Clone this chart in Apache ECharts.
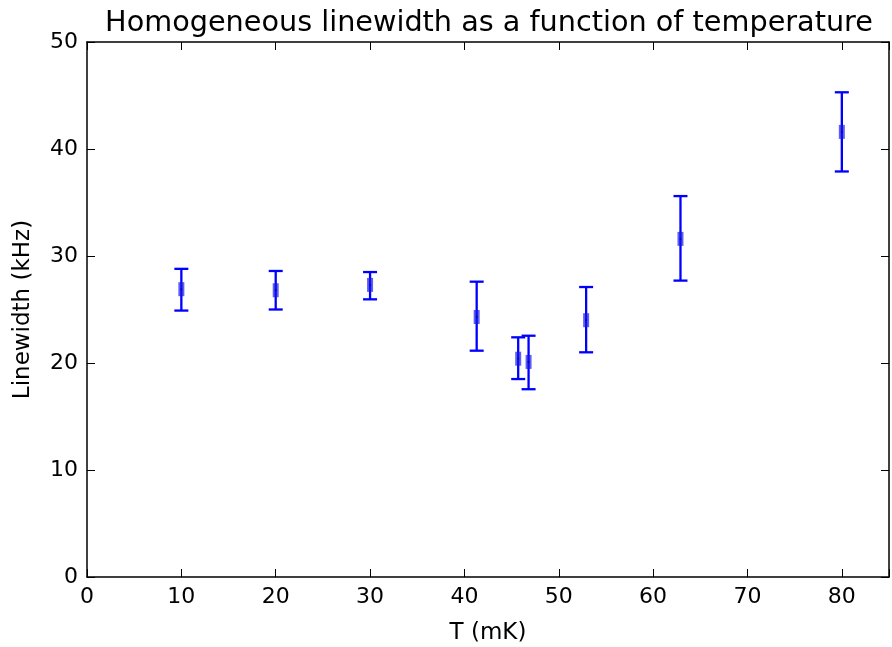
<!DOCTYPE html>
<html>
<head>
<meta charset="utf-8">
<script src="https://cdn.jsdelivr.net/npm/echarts@6/dist/echarts.min.js"></script>
<style>html,body{margin:0;padding:0;background:#fff}#c{width:892px;height:647px}</style>
</head>
<body>
<div id="c"></div>
<script>
var temperatures = [10, 20, 30, 41.3, 45.7, 46.8, 52.9, 62.9, 80];
var linewidths   = [26.9, 26.8, 27.3, 24.3, 20.4, 20.1, 24.0, 31.6, 41.6];
var lowerBounds  = [24.9, 25.0, 25.95, 21.15, 18.5, 17.55, 21.0, 27.7, 37.9];
var upperBounds  = [28.8, 28.6, 28.5, 27.6, 22.4, 22.55, 27.1, 35.6, 45.3];
var xTicks = [0, 10, 20, 30, 40, 50, 60, 70, 80];
var yTicks = [0, 10, 20, 30, 40, 50];

var font = 'DejaVu Sans';
var errData = temperatures.map(function (t, i) { return [t, lowerBounds[i], upperBounds[i]]; });
var ptData = temperatures.map(function (t, i) { return [t, linewidths[i]]; });

function axisCommon(show) {
  return {
    axisLine: { show: true, onZero: false, lineStyle: { color: '#000', width: 1.5 } },
    axisTick: { show: true, inside: true, length: 8, lineStyle: { color: '#000', width: 1 } },
    splitLine: { show: false },
    axisLabel: { show: show, color: '#000', fontFamily: font, fontSize: 22, margin: 9 }
  };
}

var chart = echarts.init(document.getElementById('c'));
chart.setOption({
  animation: false,
  title: {
    text: 'Homogeneous linewidth as a function of temperature',
    left: 484, top: 4, textAlign: 'center',
    textStyle: { fontFamily: font, fontSize: 28.7, fontWeight: 'normal', color: '#000' }
  },
  grid: { left: 87, right: 3, top: 42, bottom: 70, containLabel: false, outerBoundsMode: 'none' },
  xAxis: [
    Object.assign({ type: 'value', min: 0, max: 85, interval: 10, position: 'bottom',
      name: 'T (mK)', nameLocation: 'middle', nameGap: 45,
      nameTextStyle: { fontFamily: font, fontSize: 23, color: '#000' } }, axisCommon(true),
      { axisLabel: { color: '#000', fontFamily: font, fontSize: 22, margin: 9,
        formatter: function (v) { return xTicks.indexOf(v) >= 0 ? String(v) : ''; } } }),
    Object.assign({ type: 'value', min: 0, max: 85, interval: 10, position: 'top' }, axisCommon(false))
  ],
  yAxis: [
    Object.assign({ type: 'value', min: 0, max: 50, interval: 10, position: 'left',
      name: 'Linewidth (kHz)', nameLocation: 'middle', nameGap: 52,
      nameTextStyle: { fontFamily: font, fontSize: 23, color: '#000' } }, axisCommon(true),
      { axisLabel: { color: '#000', fontFamily: font, fontSize: 22, margin: 9,
        formatter: function (v) { return yTicks.indexOf(v) >= 0 ? String(v) : ''; } } }),
    Object.assign({ type: 'value', min: 0, max: 50, interval: 10, position: 'right' }, axisCommon(false))
  ],
  series: [
    {
      type: 'custom',
      xAxisIndex: 0, yAxisIndex: 0,
      data: errData,
      renderItem: function (params, api) {
        var x = api.value(0);
        var lo = api.coord([x, api.value(1)]);
        var hi = api.coord([x, api.value(2)]);
        var hw = 7;
        var style = { stroke: '#0000ff', lineWidth: 2.3 };
        return {
          type: 'group',
          children: [
            { type: 'line', shape: { x1: lo[0], y1: lo[1], x2: hi[0], y2: hi[1] }, style: style },
            { type: 'line', shape: { x1: lo[0] - hw, y1: lo[1], x2: lo[0] + hw, y2: lo[1] }, style: style },
            { type: 'line', shape: { x1: hi[0] - hw, y1: hi[1], x2: hi[0] + hw, y2: hi[1] }, style: style }
          ]
        };
      },
      z: 2
    },
    {
      type: 'scatter',
      xAxisIndex: 0, yAxisIndex: 0,
      data: ptData,
      symbol: 'rect',
      symbolSize: [6, 14],
      itemStyle: { color: 'rgba(20,20,230,0.85)' },
      z: 3
    },
    {
      type: 'scatter',
      xAxisIndex: 0, yAxisIndex: 0,
      data: ptData,
      symbol: 'circle',
      symbolSize: 2,
      itemStyle: { color: '#0000aa' },
      z: 4
    }
  ]
});
</script>
</body>
</html>
